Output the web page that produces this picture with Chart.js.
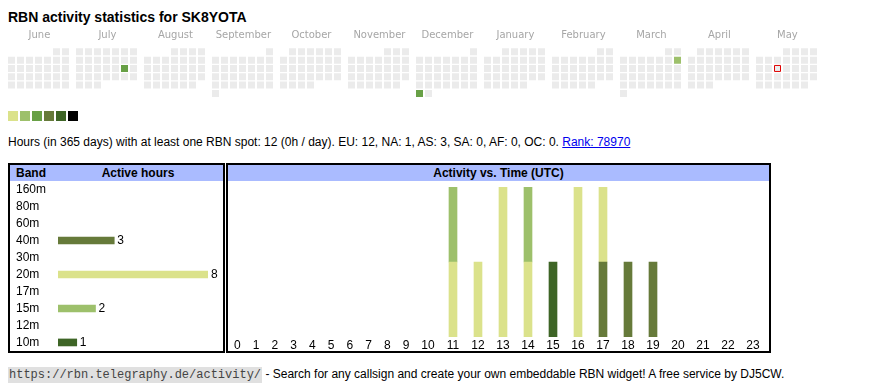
<!DOCTYPE html>
<html>
<head>
<meta charset="utf-8">
<script src="https://cdn.jsdelivr.net/npm/chart.js@4.4.1/dist/chart.umd.min.js"></script>
<style>
  body { margin: 0; width: 870px; height: 390px; position: relative; overflow: hidden; background: #fff;
         font-family: "Liberation Sans", Arial, sans-serif; font-size: 12px; color: #000; }
  .abs { position: absolute; }
  h1 { position: absolute; left: 8px; top: 9px; margin: 0; font-size: 14px; line-height: 16px; font-weight: bold; }
  #legend span { display: inline-block; width: 10px; height: 10px; margin-right: 2px; vertical-align: top; }
  #summary { left: 8px; top: 135px; line-height: 14px; white-space: nowrap; }
  #summary a { color: #0000ee; }
  .box { position: absolute; top: 163px; height: 190px; border: 2px solid #000; box-sizing: border-box; }
  .head { height: 16px; line-height: 16px; background: #aabbff; font-weight: bold; position: relative; }
  .box canvas { display: block; }
  #foot { left: 8px; top: 367px; line-height: 15px; white-space: nowrap; }
  #foot code { font-family: "Liberation Mono", monospace; font-size: 12px; background: #e0e0e0; color: #444; padding: 1px 1px; }
</style>
</head>
<body>
<h1>RBN activity statistics for SK8YOTA</h1>
<canvas id="calendar" class="abs" width="870" height="81" style="left:0;top:26px"></canvas>
<div id="legend" class="abs" style="left:8px;top:111px;line-height:0"></div>
<div id="summary" class="abs">Hours (in 365 days) with at least one RBN spot: 12 (0h / day). EU: 12, NA: 1, AS: 3, SA: 0, AF: 0, OC: 0. <a href="#">Rank: 78970</a></div>

<div class="box" style="left:8px;width:217px">
  <div class="head"><span class="abs" style="left:6px">Band</span><span class="abs" style="left:48px;width:160px;text-align:center">Active hours</span></div>
  <canvas id="bands" width="213" height="170"></canvas>
</div>
<div class="box" style="left:226px;width:545px">
  <div class="head" style="text-align:center">Activity vs. Time (UTC)</div>
  <canvas id="activity" width="541" height="170"></canvas>
</div>

<div id="foot" class="abs"><code>https://rbn.telegraphy.de/activity/</code> - Search for any callsign and create your own embeddable RBN widget! A free service by DJ5CW.</div>

<script>
// calendar (June 2024 .. May 2025)
const MONTHS = ['June', 'July', 'August', 'September', 'October', 'November', 'December',
  'January', 'February', 'March', 'April', 'May'];
const FIRST_MONTH = [2024, 5];
const DAY_DATES = ['2024-07-20', '2024-12-30', '2025-03-09'];
const DAY_HOURS = [5, 5, 2];
const TODAY = '2025-05-14';
const LEVEL_MIN_HOURS = [1, 2, 4, 8, 12, 24];

// bands
const BANDS = ['160m', '80m', '60m', '40m', '30m', '20m', '17m', '15m', '12m', '10m'];
const BAND_HOURS = [0, 0, 0, 3, 0, 8, 0, 2, 0, 1];

// activity per hour of day (UTC)
const HOUR_LABELS = ['0', '1', '2', '3', '4', '5', '6', '7', '8', '9', '10', '11',
  '12', '13', '14', '15', '16', '17', '18', '19', '20', '21', '22', '23'];
const ACT_40M = [0, 0, 0, 0, 0, 0, 0, 0, 0, 0, 0, 0, 0, 0, 0, 0, 0, 1, 1, 1, 0, 0, 0, 0];
const ACT_20M = [0, 0, 0, 0, 0, 0, 0, 0, 0, 0, 0, 1, 1, 2, 1, 0, 2, 1, 0, 0, 0, 0, 0, 0];
const ACT_15M = [0, 0, 0, 0, 0, 0, 0, 0, 0, 0, 0, 1, 0, 0, 1, 0, 0, 0, 0, 0, 0, 0, 0, 0];
const ACT_10M = [0, 0, 0, 0, 0, 0, 0, 0, 0, 0, 0, 0, 0, 0, 0, 1, 0, 0, 0, 0, 0, 0, 0, 0];

const LEVEL_COLORS = ['#dbe28b', '#9dc06b', '#68a046', '#667a3a', '#3e6526', '#000000'];
const BAND_COLORS = {'160m': '#000000', '80m': '#3e6526', '60m': '#68a046', '40m': '#667a3a', '30m': '#9dc06b',
  '20m': '#dbe28b', '17m': '#68a046', '15m': '#9dc06b', '12m': '#667a3a', '10m': '#3e6526'};
const EMPTY = '#ebebeb';

Chart.defaults.font.family = '"Liberation Sans", Arial, sans-serif';
Chart.defaults.font.size = 12;
Chart.defaults.color = '#000';

// legend squares
document.getElementById('legend').innerHTML = LEVEL_COLORS.map(c => `<span style="background:${c}"></span>`).join('');

// ---- calendar ----
const MONTH_SPAN = 7 + 5 / 9; // 7 weekday columns + a small gap, in column units
const iso = d => d.getFullYear() + '-' + String(d.getMonth() + 1).padStart(2, '0') + '-' + String(d.getDate()).padStart(2, '0');
const levelColor = h => {
  let i = 0;
  LEVEL_MIN_HOURS.forEach((m, k) => { if (h >= m) i = k; });
  return LEVEL_COLORS[i];
};

const emptyCells = [], activeCells = [], activeColors = [], todayCells = [];
MONTHS.forEach((name, m) => {
  const first = new Date(FIRST_MONTH[0], FIRST_MONTH[1] + m, 1);
  const offset = (first.getDay() + 6) % 7;
  const days = new Date(first.getFullYear(), first.getMonth() + 1, 0).getDate();
  for (let d = 1; d <= days; d++) {
    const date = new Date(first.getFullYear(), first.getMonth(), d);
    const cell = {x: m * MONTH_SPAN + (date.getDay() + 6) % 7, y: Math.floor((d - 1 + offset) / 7)};
    const key = iso(date);
    const k = DAY_DATES.indexOf(key);
    if (key === TODAY) todayCells.push(cell);
    else if (k >= 0) { activeCells.push(cell); activeColors.push(levelColor(DAY_HOURS[k])); }
    else emptyCells.push(cell);
  }
});
const monthCenters = MONTHS.map((n, m) => m * MONTH_SPAN + 3.1);

new Chart(document.getElementById('calendar'), {
  type: 'scatter',
  data: {
    datasets: [
      {data: emptyCells, backgroundColor: EMPTY, borderWidth: 0, pointStyle: 'rect', pointRadius: 3.5 * Math.SQRT2},
      {data: activeCells, backgroundColor: activeColors, borderWidth: 0, pointStyle: 'rect', pointRadius: 3.5 * Math.SQRT2},
      {data: todayCells, backgroundColor: EMPTY, borderColor: '#e00000', borderWidth: 1, pointStyle: 'rect', pointRadius: 3 * Math.SQRT2}
    ]
  },
  options: {
    responsive: false, animation: false, devicePixelRatio: 1, events: [],
    layout: {padding: {left: 7, right: 8, top: 0, bottom: 0.5}},
    plugins: {legend: {display: false}, tooltip: {enabled: false}},
    scales: {
      x: {
        type: 'linear', position: 'top', min: -0.5, max: 94.5,
        grid: {display: false, drawTicks: false}, border: {display: false},
        afterBuildTicks: s => { s.ticks = monthCenters.map(v => ({value: v})); },
        afterFit: s => { s.height = 17.5; },
        ticks: {padding: 2.5, color: '#a6a6a6', maxRotation: 0, autoSkip: false,
          font: {family: '"DejaVu Sans", sans-serif', size: 10},
          callback: (v, i) => MONTHS[i]}
      },
      y: {type: 'linear', display: false, reverse: true, min: -1, max: 6}
    }
  }
});

// ---- band table ----
const valueLabels = {
  id: 'valueLabels',
  afterDatasetsDraw(chart) {
    const ctx = chart.ctx;
    ctx.save();
    ctx.font = '12px "Liberation Sans", Arial, sans-serif';
    ctx.fillStyle = '#000';
    ctx.textBaseline = 'middle';
    chart.getDatasetMeta(0).data.forEach((bar, i) => {
      if (BAND_HOURS[i]) ctx.fillText(String(BAND_HOURS[i]), bar.x + 3, bar.y);
    });
    ctx.restore();
  }
};

new Chart(document.getElementById('bands'), {
  type: 'bar',
  data: {
    labels: BANDS,
    datasets: [{data: BAND_HOURS.map(v => v || null), backgroundColor: BANDS.map(b => BAND_COLORS[b]), barThickness: 7}]
  },
  options: {
    indexAxis: 'y', responsive: false, animation: false, devicePixelRatio: 1, events: [],
    layout: {padding: {left: 6, right: 15}},
    plugins: {legend: {display: false}, tooltip: {enabled: false}},
    scales: {
      x: {display: false, min: 0, max: Math.max(...BAND_HOURS)},
      y: {
        grid: {display: false, drawTicks: false}, border: {display: false},
        afterFit: s => { s.width = 42; },
        // tiny line height so the end labels do not shrink the plot (rows are 17px like the table)
        ticks: {crossAlign: 'far', padding: 0, color: '#000', autoSkip: false, font: {lineHeight: 0.01}}
      }
    }
  },
  plugins: [valueLabels]
});

// ---- activity vs time ----
// table columns are as wide as their label (+ cell padding)
const colUnits = HOUR_LABELS.map(h => h.length + 2);
const hourCenters = [];
let total = 0;
colUnits.forEach(u => { hourCenters.push(total + u / 2); total += u; });

const activity = {'40m': ACT_40M, '20m': ACT_20M, '15m': ACT_15M, '10m': ACT_10M};
const actBands = BANDS.filter(b => activity[b]);
const stackMax = Math.max(...HOUR_LABELS.map((h, i) => actBands.reduce((s, b) => s + activity[b][i], 0)));

new Chart(document.getElementById('activity'), {
  type: 'bar',
  data: {
    datasets: actBands.map(b => ({
      label: b,
      data: activity[b].map((v, i) => ({x: hourCenters[i], y: v || null})),
      backgroundColor: BAND_COLORS[b],
      barThickness: 8
    }))
  },
  options: {
    responsive: false, animation: false, devicePixelRatio: 1, events: [],
    layout: {padding: {top: 6, right: 3.5}},
    plugins: {legend: {display: false}, tooltip: {enabled: false}},
    scales: {
      x: {
        type: 'linear', stacked: true, offset: false, min: 0, max: total,
        grid: {display: false, drawTicks: false, offset: false}, border: {display: false},
        afterBuildTicks: s => { s.ticks = hourCenters.map(v => ({value: v})); },
        afterFit: s => { s.height = 14; },
        ticks: {padding: 1, color: '#000', maxRotation: 0, autoSkip: false, callback: (v, i) => HOUR_LABELS[i]}
      },
      y: {display: false, stacked: true, min: 0, max: stackMax}
    }
  }
});
</script>
</body>
</html>
